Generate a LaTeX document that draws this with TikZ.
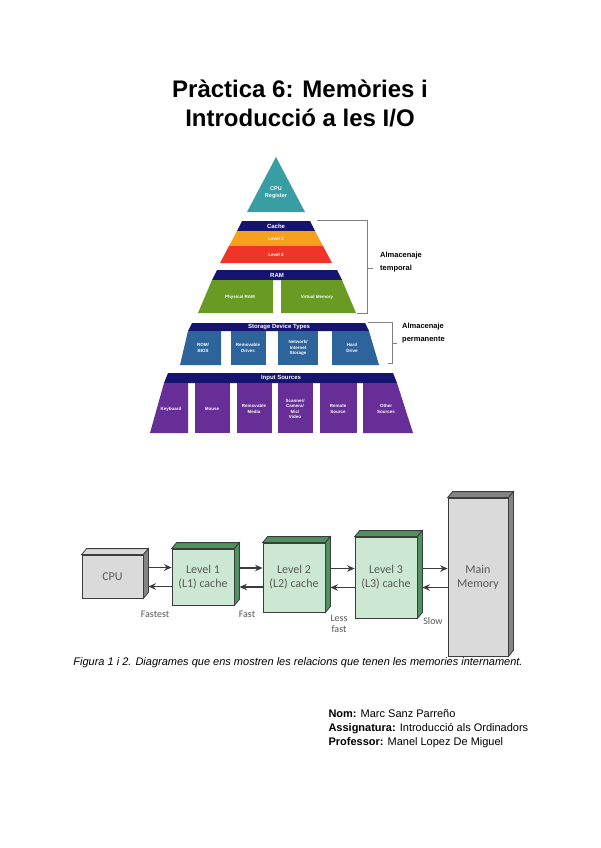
\documentclass[tikz,border=0pt]{standalone}
\usepackage{fontspec}
\setmainfont{Liberation Sans}
\newfontfamily\cachefont{Carlito}
\usepackage{xcolor}
\usetikzlibrary{arrows.meta,positioning}
\definecolor{cputeal}{RGB}{56,158,164}
\definecolor{bandnavy}{RGB}{22,20,112}
\definecolor{lvlorange}{RGB}{246,160,32}
\definecolor{lvlred}{RGB}{240,52,40}
\definecolor{ramgreen}{RGB}{104,154,36}
\definecolor{storblue}{RGB}{46,100,156}
\definecolor{inpurple}{RGB}{102,46,150}
\definecolor{cachefill}{RGB}{204,232,210}
\definecolor{cacheside}{RGB}{78,146,96}
\definecolor{memfill}{RGB}{218,218,218}
\definecolor{memside}{RGB}{132,132,132}
\definecolor{edgegray}{RGB}{60,60,60}

\begin{document}
\begin{tikzpicture}[x=1pt, y=-1pt,
    pyrtext/.style={text=white, font=\bfseries\fontsize{4.5}{5.5}\selectfont, align=center, inner sep=0pt},
    bandtext/.style={text=white, font=\bfseries\fontsize{6}{7}\selectfont, inner sep=0pt},
    brace/.style={draw=gray, line width=0.6pt},
    bracetext/.style={font=\bfseries\fontsize{7.5}{13}\selectfont, align=left, anchor=west, inner sep=0pt},
    cachebox/.style={rectangle, draw=edgegray, line width=0.8pt, fill=cachefill, inner sep=0pt,
                     minimum width=62pt, text=black!65, font=\cachefont\fontsize{12}{14}\selectfont, align=center},
    membox/.style={cachebox, fill=memfill},
    speed/.style={text=black!65, font=\cachefont\fontsize{10}{10.5}\selectfont, align=center, inner sep=0pt},
    arrow/.style={-{Stealth[length=7.5pt,width=6.5pt]}, line width=1.3pt, edgegray}
]

\path[fill=white] (0,0) rectangle (600,848);

% title
\node[font=\bfseries\fontsize{24}{29}\selectfont, align=center] (title) at (300,103)
    {Pràctica 6: Memòries i\\Introducció a les I/O};

% memory pyramid
\fill[cputeal] (276,157) -- (305,212) -- (247,212) -- cycle;
\node[pyrtext, font=\bfseries\fontsize{5.5}{7}\selectfont] (cpureg) at (276,193) {CPU\\Register};

\fill[bandnavy] (242,221) -- (310,221) -- (315,231) -- (237,231) -- cycle;
\fill[lvlorange] (237,231) -- (315,231) -- (323,246) -- (229,246) -- cycle;
\fill[lvlred] (229,246) -- (323,246) -- (332,263) -- (220,263) -- cycle;
\node[bandtext] (cache) at (276,226) {Cache};
\node[pyrtext] (lvlone) at (276,239) {Level 1};
\node[pyrtext] (lvltwo) at (276,255) {Level 2};

\fill[bandnavy] (217,270) -- (337,270) -- (342,280) -- (212,280) -- cycle;
\fill[ramgreen] (212,280) -- (273,280) -- (273,313) -- (198,313) -- cycle;
\fill[ramgreen] (281,280) -- (342,280) -- (356,313) -- (281,313) -- cycle;
\node[bandtext] (ram) at (277,275) {RAM};
\node[pyrtext] (physram) at (240,297) {Physical RAM};
\node[pyrtext] (virtmem) at (317,297) {Virtual Memory};

\fill[bandnavy] (192,323) -- (365,323) -- (369,331) -- (188,331) -- cycle;
\fill[storblue] (188,331) -- (221,331) -- (221,365) -- (180,365) -- cycle;
\fill[storblue] (231,331) -- (266,331) -- (266,365) -- (231,365) -- cycle;
\fill[storblue] (278,331) -- (318,331) -- (318,365) -- (278,365) -- cycle;
\fill[storblue] (332,331) -- (369,331) -- (379,365) -- (332,365) -- cycle;
\node[bandtext] (storage) at (279,327) {Storage Device Types};
\node[pyrtext] (rom) at (203,348) {ROM/\\BIOS};
\node[pyrtext] (remdrives) at (248,348) {Removable\\Drives};
\node[pyrtext] (network) at (298,348) {Network/\\Internet\\Storage};
\node[pyrtext] (harddrive) at (352,348) {Hard\\Drive};

\fill[bandnavy] (168,373) -- (393,373) -- (397,383) -- (164,383) -- cycle;
\fill[inpurple] (164,383) -- (188,383) -- (188,433) -- (150,433) -- cycle;
\fill[inpurple] (195,383) -- (230,383) -- (230,433) -- (195,433) -- cycle;
\fill[inpurple] (237,383) -- (272,383) -- (272,433) -- (237,433) -- cycle;
\fill[inpurple] (278,383) -- (313,383) -- (313,433) -- (278,433) -- cycle;
\fill[inpurple] (320,383) -- (357,383) -- (357,433) -- (320,433) -- cycle;
\fill[inpurple] (363,383) -- (397,383) -- (413,433) -- (363,433) -- cycle;
\node[bandtext] (input) at (281,378) {Input Sources};
\node[pyrtext] (keyboard) at (171,409) {Keyboard};
\node[pyrtext] (mouse) at (212,409) {Mouse};
\node[pyrtext] (remmedia) at (254,409) {Removable\\Media};
\node[pyrtext] (scanner) at (295,409) {Scanner/\\Camera/\\Mic/\\Video};
\node[pyrtext] (remote) at (338,409) {Remote\\Source};
\node[pyrtext] (other) at (386,409) {Other\\Sources};

% brackets
\draw[brace] (317,220) -- (367,220) -- (367,313) -- (357,313);
\draw[brace] (367,268) -- (373,268);
\node[bracetext] (temporal) at (380,262) {Almacenaje\\temporal};
\draw[brace] (368,322) -- (392,322) -- (392,363) -- (388,363);
\draw[brace] (392,343) -- (397,343);
\node[bracetext] (permanent) at (402,333) {Almacenaje\\permanente};

% cache hierarchy
\node[membox, minimum width=61pt, minimum height=43pt] (cpu) at (112.5,576.5) {CPU};
\node[cachebox, minimum height=56pt] (lone) at (203,577) {Level 1\\(L1) cache};
\node[cachebox, minimum height=69pt] (ltwo) at (294,577.5) {Level 2\\(L2) cache};
\node[cachebox, minimum height=81pt] (lthree) at (386,577.5) {Level 3\\(L3) cache};
\node[membox, minimum width=60pt, minimum height=158pt] (mainmem) at (478,577) {Main\\Memory};

\filldraw[fill=memfill, draw=edgegray, line width=0.8pt] (cpu.north west) -- ++(5,-6) -- ([shift={(5,-6)}]cpu.north east) -- (cpu.north east) -- cycle;
\filldraw[fill=memside, draw=edgegray, line width=0.8pt] (cpu.north east) -- ++(5,-6) -- ([shift={(5,-6)}]cpu.south east) -- (cpu.south east) -- cycle;
\filldraw[fill=cacheside, draw=edgegray, line width=0.8pt] (lone.north west) -- ++(5,-6) -- ([shift={(5,-6)}]lone.north east) -- (lone.north east) -- cycle;
\filldraw[fill=cacheside, draw=edgegray, line width=0.8pt] (lone.north east) -- ++(5,-6) -- ([shift={(5,-6)}]lone.south east) -- (lone.south east) -- cycle;
\filldraw[fill=cacheside, draw=edgegray, line width=0.8pt] (ltwo.north west) -- ++(5,-6) -- ([shift={(5,-6)}]ltwo.north east) -- (ltwo.north east) -- cycle;
\filldraw[fill=cacheside, draw=edgegray, line width=0.8pt] (ltwo.north east) -- ++(5,-6) -- ([shift={(5,-6)}]ltwo.south east) -- (ltwo.south east) -- cycle;
\filldraw[fill=cacheside, draw=edgegray, line width=0.8pt] (lthree.north west) -- ++(5,-6) -- ([shift={(5,-6)}]lthree.north east) -- (lthree.north east) -- cycle;
\filldraw[fill=cacheside, draw=edgegray, line width=0.8pt] (lthree.north east) -- ++(5,-6) -- ([shift={(5,-6)}]lthree.south east) -- (lthree.south east) -- cycle;
\filldraw[fill=memside, draw=edgegray, line width=0.8pt] (mainmem.north west) -- ++(5,-6) -- ([shift={(5,-6)}]mainmem.north east) -- (mainmem.north east) -- cycle;
\filldraw[fill=memside, draw=edgegray, line width=0.8pt] (mainmem.north east) -- ++(5,-6) -- ([shift={(5,-6)}]mainmem.south east) -- (mainmem.south east) -- cycle;

\draw[arrow] ([xshift=5pt,yshift=9pt]cpu.east) -- ([yshift=9pt]cpu.east -| lone.west);
\draw[arrow] ([yshift=-10pt]cpu.east -| lone.west) -- ([xshift=5pt,yshift=-10pt]cpu.east);
\draw[arrow] ([xshift=5pt,yshift=9pt]lone.east) -- ([yshift=9pt]lone.east -| ltwo.west);
\draw[arrow] ([yshift=-10pt]lone.east -| ltwo.west) -- ([xshift=5pt,yshift=-10pt]lone.east);
\draw[arrow] ([xshift=5pt,yshift=9pt]ltwo.east) -- ([yshift=9pt]ltwo.east -| lthree.west);
\draw[arrow] ([yshift=-10pt]ltwo.east -| lthree.west) -- ([xshift=5pt,yshift=-10pt]ltwo.east);
\draw[arrow] ([xshift=5pt,yshift=9pt]lthree.east) -- ([yshift=9pt]lthree.east -| mainmem.west);
\draw[arrow] ([yshift=-10pt]lthree.east -| mainmem.west) -- ([xshift=5pt,yshift=-10pt]lthree.east);

\node[speed] (fastest) at (155,614) {Fastest};
\node[speed] (fast) at (247,614) {Fast};
\node[speed] (lessfast) at (339,624) {Less\\fast};
\node[speed] (slow) at (433,621) {Slow};

% caption and author
\node[font=\itshape\fontsize{11}{12}\selectfont] (caption) at (298,663)
    {Figura 1 i 2. Diagrames que ens mostren les relacions que tenen les memories internament.};
\node[font=\fontsize{11}{14}\selectfont, align=left, anchor=west] (author) at (325,729)
    {\textbf{Nom:} Marc Sanz Parreño\\
     \textbf{Assignatura:} Introducció als Ordinadors\\
     \textbf{Professor:} Manel Lopez De Miguel};

\end{tikzpicture}
\end{document}
